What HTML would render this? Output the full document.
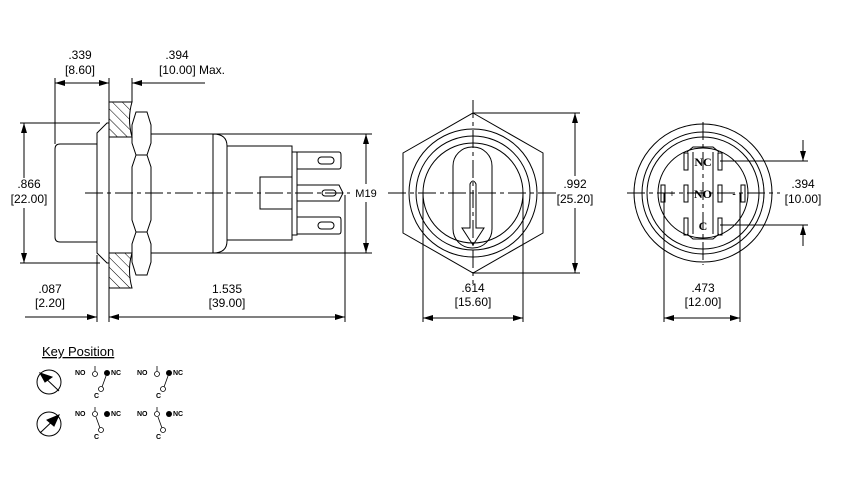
<!DOCTYPE html>
<html><head><style>html,body{margin:0;padding:0;background:#fff}svg{display:block}</style></head><body>
<svg width="861" height="477" viewBox="0 0 861 477" xmlns="http://www.w3.org/2000/svg" font-family="Liberation Sans, sans-serif" font-size="12">
<defs>
<marker id="a" viewBox="0 0 10 6" refX="10" refY="3" markerWidth="10" markerHeight="6" orient="auto-start-reverse" markerUnits="userSpaceOnUse"><path d="M0,0L10,3L0,6z" fill="#000"/></marker>
<pattern id="h" width="7" height="7" patternUnits="userSpaceOnUse" patternTransform="rotate(-45)"><line x1="0" y1="0" x2="0" y2="7" stroke="#000" stroke-width="1"/></pattern>
</defs>
<g fill="none" stroke="#000" stroke-width="1">
<!-- side view -->
<path d="M97,144 H60 Q55,144 55,149 V237 Q55,242 60,242 H97"/>
<path d="M97,133 L107,123 H109 V263 H107 L97,253 Z"/>
<path d="M109,102 H132 Q127,119 132,137 H109 Z" fill="url(#h)"/>
<path d="M109,253 H132 Q127,270 132,288 H109 Z" fill="url(#h)"/>
<path d="M136,112 H147 L151,125 V143 L147,155 L151,167 V220 L147,232 L151,244 V262 L147,275 H136 L132,262 V244 L136,232 L132,220 V167 L136,155 L132,143 V125 Z"/>
<line x1="136" y1="155" x2="147" y2="155"/><line x1="136" y1="232" x2="147" y2="232"/>
<path d="M151,134 H213 M151,253 H213"/>
<path d="M213,134 Q227,134 227,146 V241 Q227,253 213,253 Z"/>
<rect x="227" y="146" width="65" height="94"/>
<rect x="260" y="177" width="32" height="32"/>
<rect x="292" y="152" width="5" height="83"/>
<path d="M297,152 H339 Q341,152 341,155 V166 Q341,169 339,169 H297"/>
<path d="M297,217 H339 Q341,217 341,220 V231 Q341,234 339,234 H297"/>
<path d="M297,185 H339 L343,193 L339,201 H297"/>
<rect x="318" y="157" width="16" height="7" rx="3.5"/>
<rect x="318" y="222" width="16" height="7" rx="3.5"/>
<rect x="322" y="190" width="14" height="6" rx="3"/>
<line x1="85" y1="193" x2="350" y2="193" stroke-dasharray="18,4,4,4"/>
<!-- side dims -->
<path d="M55,78 V144 M109,78 V102 M132,78 V102"/>
<line x1="55" y1="83" x2="109" y2="83" marker-start="url(#a)" marker-end="url(#a)"/>
<line x1="132" y1="83" x2="205" y2="83" marker-start="url(#a)"/>
<path d="M20,123 H100 M20,263 H100"/>
<line x1="24" y1="123" x2="24" y2="178" marker-start="url(#a)"/>
<line x1="24" y1="208" x2="24" y2="263" marker-end="url(#a)"/>
<path d="M210,134 H372 M210,253 H372"/>
<line x1="366" y1="134" x2="366" y2="184" marker-start="url(#a)"/>
<line x1="366" y1="202" x2="366" y2="253" marker-end="url(#a)"/>
<path d="M97,255 V322 M109,265 V322 M345,195 V322"/>
<line x1="25" y1="317" x2="97" y2="317" marker-end="url(#a)"/>
<line x1="109" y1="317" x2="345" y2="317" marker-start="url(#a)" marker-end="url(#a)"/>
<!-- front view -->
<polygon points="473,113 543,153 543,233 473,273 403,233 403,153"/>
<circle cx="473" cy="193" r="64"/><circle cx="473" cy="193" r="57"/><circle cx="473" cy="193" r="50"/>
<rect x="453" y="147" width="39" height="101" rx="19"/>
<path d="M470,228 V184 Q473,178 476,184 V228 H484 L473,245 L462,228 Z"/>
<line x1="388" y1="193" x2="558" y2="193" stroke-dasharray="18,4,4,4"/>
<line x1="473" y1="100" x2="473" y2="284" stroke-dasharray="18,4,4,4"/>
<path d="M473,113 H580 M473,273 H580"/>
<line x1="575" y1="113" x2="575" y2="176" marker-start="url(#a)"/>
<line x1="575" y1="208" x2="575" y2="273" marker-end="url(#a)"/>
<path d="M423,193 V322 M523,193 V322"/>
<line x1="423" y1="318" x2="523" y2="318" marker-start="url(#a)" marker-end="url(#a)"/>
<!-- rear view -->
<circle cx="703" cy="193" r="69"/><circle cx="703" cy="193" r="61"/><circle cx="703" cy="193" r="56"/><circle cx="703" cy="193" r="45"/>
<path d="M687,152 L693,147 H713 L719,152 M687,234 L693,239 H713 L719,234 M693,152 V234 M713,152 V234"/>
<g>
<rect x="684" y="153" width="4" height="17"/><rect x="718" y="153" width="4" height="17"/>
<rect x="684" y="185" width="4" height="17"/><rect x="718" y="185" width="4" height="17"/>
<rect x="684" y="218" width="4" height="17"/><rect x="718" y="218" width="4" height="17"/>
<rect x="661" y="185" width="4" height="17"/><rect x="741" y="185" width="4" height="17"/>
</g>
<line x1="627" y1="193" x2="780" y2="193" stroke-dasharray="18,4,4,4"/>
<line x1="703" y1="122" x2="703" y2="265" stroke-dasharray="18,4,4,4"/>
<path d="M720,161 H808 M720,225 H808"/>
<line x1="803" y1="140" x2="803" y2="161" marker-end="url(#a)"/>
<line x1="803" y1="246" x2="803" y2="225" marker-end="url(#a)"/>
<path d="M664,193 V322 M740,193 V322"/>
<line x1="664" y1="318" x2="740" y2="318" marker-start="url(#a)" marker-end="url(#a)"/>
<!-- key icons -->
<circle cx="49" cy="382" r="12"/><circle cx="49" cy="424" r="12"/>
<line x1="40" y1="373" x2="59" y2="391"/><path d="M40,373 L52,377 L45,382 Z" fill="#000"/>
<line x1="40" y1="433" x2="59" y2="415"/><path d="M59,415 L47,420 L54,426 Z" fill="#000"/>
</g>
<g font-size="12" text-anchor="middle">
<text x="80" y="59">.339</text><text x="80" y="74">[8.60]</text>
<text x="177" y="59">.394</text><text x="192" y="74">[10.00] Max.</text>
<rect x="8" y="178" width="38" height="30" fill="#fff"/>
<text x="29" y="188">.866</text><text x="29" y="203">[22.00]</text>
<text x="366" y="197" font-size="11">M19</text>
<text x="50" y="293">.087</text><text x="50" y="307">[2.20]</text>
<text x="227" y="293">1.535</text><text x="227" y="307">[39.00]</text>
<text x="575" y="188">.992</text><text x="575" y="203">[25.20]</text>
<text x="473" y="292">.614</text><text x="473" y="306">[15.60]</text>
<text x="803" y="188">.394</text><text x="803" y="203">[10.00]</text>
<text x="703" y="292">.473</text><text x="703" y="306">[12.00]</text>
</g>
<g font-family="Liberation Serif, serif" font-weight="bold" font-size="12" text-anchor="middle">
<text x="703" y="166">NC</text><text x="703" y="198">NO</text><text x="703" y="230">C</text>
<text x="672" y="197" font-size="10">+</text><text x="734" y="197" font-size="10">-</text>
</g>
<text x="42" y="356" font-size="13" text-decoration="underline">Key Position</text>
<g font-size="7" font-weight="bold" fill="#000">
<g id="s1"><text x="75" y="375">NO</text><circle cx="95" cy="374" r="2.5" fill="#fff" stroke="#000" stroke-width="0.8"/><line x1="95" y1="371" x2="95" y2="366" stroke="#000" stroke-width="0.8"/><circle cx="107" cy="373" r="3" fill="#000"/><text x="111" y="375">NC</text><line x1="106" y1="376" x2="102" y2="387" stroke="#000" stroke-width="0.8"/><circle cx="101" cy="389" r="2.5" fill="#fff" stroke="#000" stroke-width="0.8"/><text x="94" y="398">C</text></g>
<use href="#s1" x="62"/>
<g id="s2"><text x="75" y="416">NO</text><circle cx="95" cy="414" r="2.5" fill="#fff" stroke="#000" stroke-width="0.8"/><line x1="95" y1="411" x2="95" y2="407" stroke="#000" stroke-width="0.8"/><circle cx="107" cy="414" r="3" fill="#000"/><text x="111" y="416">NC</text><line x1="96" y1="417" x2="100" y2="428" stroke="#000" stroke-width="0.8"/><circle cx="101" cy="430" r="2.5" fill="#fff" stroke="#000" stroke-width="0.8"/><text x="94" y="439">C</text></g>
<use href="#s2" x="62"/>
</g>
</svg>
</body></html>
